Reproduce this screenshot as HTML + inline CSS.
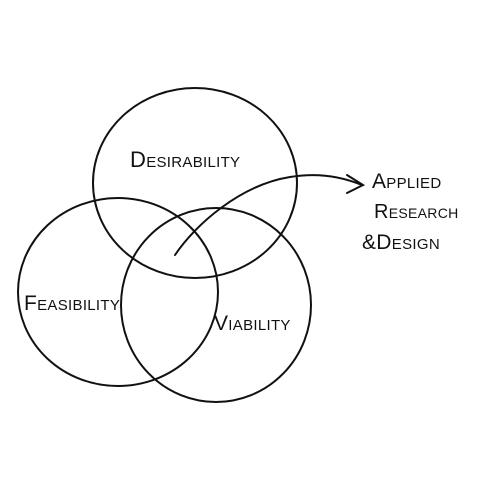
<!DOCTYPE html>
<html><head><style>
body{margin:0;background:#fff;width:500px;height:500px;overflow:hidden}
svg{display:block}
text{font-family:"Liberation Sans",sans-serif;fill:#111;font-variant:small-caps;letter-spacing:0.3px}
</style></head><body>
<svg width="500" height="500" viewBox="0 0 500 500">
<g fill="none" stroke="#111" stroke-width="2" stroke-linecap="round">
<ellipse cx="195" cy="183" rx="102" ry="95"/>
<ellipse cx="118" cy="292" rx="100" ry="94"/>
<ellipse cx="216" cy="305" rx="95" ry="97"/>
<path d="M175 255 C 195 225, 240 185, 290 177 C 320 172, 345 178, 362 185"/>
<path d="M347 175 L363 185 L347 193"/>
</g>
<text x="130" y="167" font-size="22">Desirability</text>
<text x="24" y="310" font-size="21">Feasibility</text>
<text x="214" y="330" font-size="21">Viability</text>
<text x="372" y="188" font-size="21">Applied</text>
<text x="374" y="218" font-size="20">Research</text>
<text x="362" y="249" font-size="21">&amp;Design</text>
</svg>
</body></html>
